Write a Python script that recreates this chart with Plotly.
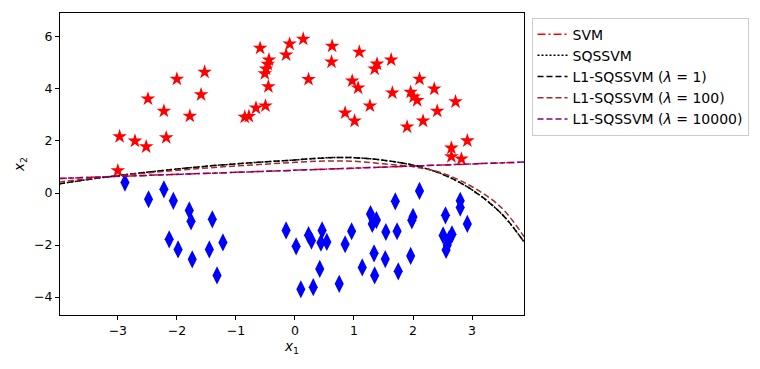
import plotly.graph_objects as go

# Class +1 (red stars)
pos_x1 = [-0.59, -0.09, -0.15, -0.44, -0.46, -0.49, -0.51, -0.45, -0.50, -0.66,
          -0.78, -0.85, -1.53, -2.00, -1.59, -2.49, -2.22, -1.78, -2.18, -2.97,
          -2.71, -2.52, -3.00, 0.14, 0.63, 0.62, 1.09, 0.23, 0.97, 1.07,
          1.39, 1.35, 1.63, 0.85, 1.01, 1.27, 1.65, 1.96, 2.01, 2.07,
          2.11, 2.36, 2.72, 2.41, 2.17, 1.90, 2.92, 2.65, 2.65, 2.82]
pos_x2 = [5.57, 5.73, 5.31, 5.12, 4.95, 4.77, 4.59, 4.09, 3.35, 3.27,
          2.95, 2.92, 4.65, 4.38, 3.78, 3.62, 3.15, 2.96, 2.13, 2.17,
          2.00, 1.78, 0.86, 5.92, 5.65, 5.04, 5.42, 4.37, 4.31, 4.04,
          4.96, 4.77, 5.12, 3.08, 2.77, 3.35, 3.85, 3.88, 3.70, 3.56,
          4.38, 4.00, 3.51, 3.15, 2.77, 2.54, 2.01, 1.73, 1.40, 1.31]

# Class -1 (blue diamonds)
neg_x1 = [-2.88, -2.48, -2.22, -2.06, -1.79, -1.76, -1.40, -2.13, -1.98, -1.74,
          -1.45, -1.22, -1.32, -0.15, 0.02, 0.10, 0.31, 0.23, 0.28, 0.46,
          0.44, 0.54, 0.42, 0.75, 0.85, 0.96, 1.14, 1.28, 1.31, 1.38,
          1.34, 1.35, 1.54, 1.53, 1.70, 1.73, 1.75, 1.96, 2.00, 1.98,
          2.11, 2.55, 2.51, 2.66, 2.61, 2.58, 2.56, 2.80, 2.80, 2.92]
neg_x2 = [0.40, -0.24, 0.14, -0.30, -0.67, -1.09, -1.01, -1.78, -2.17, -2.55,
          -2.17, -1.90, -3.17, -1.44, -2.05, -3.70, -3.62, -1.62, -1.83, -1.44,
          -1.91, -1.88, -2.92, -3.49, -1.97, -1.47, -2.86, -0.81, -1.19, -1.04,
          -2.32, -3.17, -1.50, -2.54, -0.32, -1.47, -3.01, -2.42, -0.92, -1.05,
          0.08, -0.86, -1.63, -1.59, -1.78, -2.00, -2.19, -0.30, -0.56, -1.19]

# Decision boundaries
lin_x = [-4.0, 0.07, 3.88]
svm_y = [0.56, 0.88, 1.19]
l1_10000_y = [0.56, 0.88, 1.19]

quad_x = [-4.0, -3.5, -3.0, -2.5, -2.0, -1.5, -1.0, -0.5, 0.0, 0.5, 1.0, 1.5, 2.0, 2.5, 3.0, 3.5, 3.88]
sqssvm_y = [0.35, 0.52, 0.67, 0.80, 0.92, 1.03, 1.12, 1.20, 1.27, 1.35, 1.36, 1.26, 1.07, 0.72, 0.12, -0.80, -1.88]
l1_1_y = [0.35, 0.52, 0.67, 0.80, 0.92, 1.03, 1.12, 1.20, 1.27, 1.35, 1.36, 1.26, 1.07, 0.72, 0.12, -0.80, -1.88]
l1_100_y = [0.42, 0.55, 0.67, 0.77, 0.87, 0.96, 1.04, 1.11, 1.18, 1.23, 1.22, 1.12, 1.01, 0.76, 0.24, -0.57, -1.68]

LAM = "<i>λ</i>"

fig = go.Figure()

fig.add_trace(go.Scatter(x=pos_x1, y=pos_x2, mode="markers", showlegend=False,
                         marker=dict(symbol="star", size=11, color="red")))
fig.add_trace(go.Scatter(x=neg_x1, y=neg_x2, mode="markers", showlegend=False,
                         marker=dict(symbol="diamond-tall", size=13, color="blue")))

lines = [
    ("SVM", lin_x, svm_y, "red", "8px,3px,2px,3px"),
    ("SQSSVM", quad_x, sqssvm_y, "black", "2px,2px"),
    (f"L1-SQSSVM ({LAM} = 1)", quad_x, l1_1_y, "black", "6px,3px"),
    (f"L1-SQSSVM ({LAM} = 100)", quad_x, l1_100_y, "#a52a2a", "6px,3px"),
    (f"L1-SQSSVM ({LAM} = 10000)", lin_x, l1_10000_y, "purple", "6px,3px"),
]
for name, xs, ys, color, dash in lines:
    fig.add_trace(go.Scatter(
        x=xs, y=ys, mode="lines", name=name,
        line=dict(color=color, width=1.5, dash=dash, shape="spline", smoothing=1.0),
    ))

axis_style = dict(
    showline=True, linecolor="black", linewidth=1, mirror=True,
    ticks="outside", ticklen=4, tickcolor="black", tickwidth=1,
    showgrid=False, zeroline=False, automargin=False,
    tickfont=dict(family="DejaVu Sans", size=12.5, color="black"),
)

fig.update_xaxes(
    range=[-3.98, 3.88], tickvals=[-3, -2, -1, 0, 1, 2, 3],
    ticktext=["−3", "−2", "−1", "0", "1", "2", "3"],
    title=dict(text="<i>x</i><sub>1</sub>", standoff=4,
               font=dict(family="DejaVu Sans", size=13.5, color="black")),
    **axis_style,
)
fig.update_yaxes(
    range=[-4.69, 6.92], tickvals=[-4, -2, 0, 2, 4, 6],
    ticktext=["−4", "−2", "0", "2", "4", "6"],
    title=dict(text="<i>x</i><sub>2</sub>", standoff=6,
               font=dict(family="DejaVu Sans", size=13.5, color="black")),
    **axis_style,
)

fig.update_layout(
    width=760, height=369,
    margin=dict(l=60, r=235, t=13, b=54),
    paper_bgcolor="white", plot_bgcolor="white",
    font=dict(family="DejaVu Sans", size=13, color="black"),
    legend=dict(
        x=1.014, y=0.985, xanchor="left", yanchor="top",
        bgcolor="white", bordercolor="#cccccc", borderwidth=1,
        font=dict(family="DejaVu Sans", size=14, color="black"),
        itemwidth=30, tracegroupgap=0,
    ),
)

# drop the browser's default page margin so the figure sits at the top-left corner
fig.write_html("out.html", config={"displayModeBar": False},
               post_script="document.body.style.margin = '0';")
